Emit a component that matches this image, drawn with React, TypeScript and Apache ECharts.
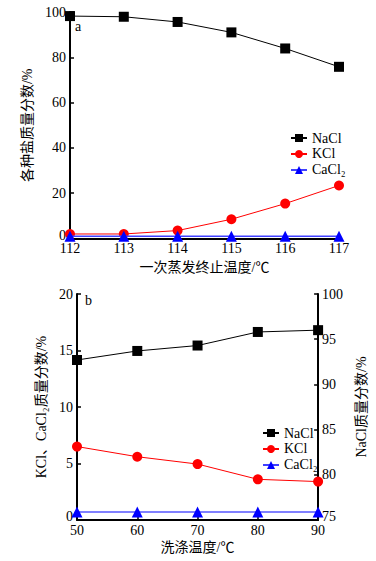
import React, { useEffect, useRef } from "react";
import * as echarts from "echarts";

const tempA = [112, 113, 114, 115, 116, 117];
const naclA = [98.2, 97.9, 95.6, 91.0, 83.9, 75.8];
const kclA = [2.0, 2.0, 3.5, 8.5, 15.4, 23.4];
const cacl2A = [1.0, 1.0, 1.0, 1.0, 1.0, 1.0];

const tempB = [50, 60, 70, 80, 90];
const naclB = [92.7, 93.7, 94.3, 95.8, 96.0];
const kclB = [6.5, 5.6, 4.95, 3.6, 3.4];
const cacl2B = [0.7, 0.7, 0.7, 0.7, 0.7];

const seriesNames = ["NaCl", "KCl", "CaCl₂"];

const FONT = "'Liberation Serif', 'Noto Sans CJK SC', serif";

const pair = (xs: number[], ys: number[]) => xs.map((x, i) => [x, ys[i]]);

export default function App() {
  const ref = useRef<HTMLDivElement>(null);
  useEffect(() => {
    if (!ref.current) return;
    const chart = echarts.init(ref.current, undefined, { renderer: "svg" });
    const axisLine = { show: true, lineStyle: { color: "#000", width: 2 } };
    const axisTick = { show: true, inside: true, length: 4, lineStyle: { color: "#000", width: 1.5 } };
    const axisLabel = { color: "#000", fontSize: 14, fontFamily: FONT, margin: 4 };
    const yLabel = (minV: number) => ({
      ...axisLabel,
      formatter: (v: number) => (v === minV ? "{z|" + v + "}" : String(v)),
      rich: { z: { color: "#000", fontSize: 14, fontFamily: FONT, padding: [0, 0, 7, 0] } },
    });
    const nameTextStyle = { color: "#000", fontSize: 14, fontFamily: FONT };
    const legendBase = {
      orient: "vertical" as const,
      itemWidth: 16,
      itemHeight: 10,
      itemGap: 2,
      padding: 0,
      textStyle: { color: "#000", fontSize: 14, fontFamily: FONT },
      data: seriesNames,
    };
    chart.setOption({
      animation: false,
      backgroundColor: "#fff",
      textStyle: { fontFamily: FONT },
      grid: [
        { left: 70, right: 37, top: 12, height: 226.5 },
        { left: 77, right: 53, top: 294, height: 226 },
      ],
      legend: [
        { ...legendBase, left: 290, top: 131 },
        { ...legendBase, left: 262, top: 426 },
      ],
      xAxis: [
        {
          type: "value", gridIndex: 0, min: 112, max: 117, interval: 1,
          axisLine, axisTick, axisLabel: { ...axisLabel, margin: 3 }, splitLine: { show: false },
          name: "一次蒸发终止温度/℃", nameLocation: "middle", nameGap: 22, nameTextStyle,
        },
        {
          type: "value", gridIndex: 1, min: 50, max: 90, interval: 10,
          axisLine, axisTick, axisLabel: { ...axisLabel, margin: 3 }, splitLine: { show: false },
          name: "洗涤温度/℃", nameLocation: "middle", nameGap: 20, nameTextStyle,
        },
      ],
      yAxis: [
        {
          type: "value", gridIndex: 0, min: 0, max: 100, interval: 20,
          axisLine, axisTick, axisLabel: yLabel(0), splitLine: { show: false },
          name: "各种盐质量分数/%", nameLocation: "middle", nameGap: 20, nameTextStyle,
        },
        {
          type: "value", gridIndex: 1, min: 0, max: 20, interval: 5, position: "left",
          axisLine, axisTick, axisLabel: yLabel(0), splitLine: { show: false },
          name: "KCl、CaCl₂质量分数/%", nameLocation: "middle", nameGap: 19, nameTextStyle,
        },
        {
          type: "value", gridIndex: 1, min: 75, max: 100, interval: 5, position: "right",
          axisLine, axisTick, axisLabel: yLabel(75), splitLine: { show: false },
          name: "NaCl质量分数/%", nameLocation: "middle", nameGap: 21, nameTextStyle,
        },
      ],
      graphic: [
        { type: "text", left: 75, top: 19, style: { text: "a", fontSize: 14, fontFamily: FONT, fill: "#000" } },
        { type: "text", left: 85, top: 293, style: { text: "b", fontSize: 14, fontFamily: FONT, fill: "#000" } },
      ],
      series: [
        {
          name: "NaCl", type: "line", xAxisIndex: 0, yAxisIndex: 0, data: pair(tempA, naclA),
          symbol: "rect", symbolSize: 10, itemStyle: { color: "#000" }, lineStyle: { color: "#000", width: 1 }, z: 3,
        },
        {
          name: "KCl", type: "line", xAxisIndex: 0, yAxisIndex: 0, data: pair(tempA, kclA),
          symbol: "circle", symbolSize: 10, itemStyle: { color: "#ff0000" }, lineStyle: { color: "#ff0000", width: 1 }, z: 3,
        },
        {
          name: "CaCl₂", type: "line", xAxisIndex: 0, yAxisIndex: 0, data: pair(tempA, cacl2A),
          symbol: "triangle", symbolSize: 11, itemStyle: { color: "#0000ff" }, lineStyle: { color: "#4040ff", width: 1.5 }, z: 4,
        },
        {
          name: "NaCl", type: "line", xAxisIndex: 1, yAxisIndex: 2, data: pair(tempB, naclB),
          symbol: "rect", symbolSize: 10, itemStyle: { color: "#000" }, lineStyle: { color: "#000", width: 1 }, z: 3,
        },
        {
          name: "KCl", type: "line", xAxisIndex: 1, yAxisIndex: 1, data: pair(tempB, kclB),
          symbol: "circle", symbolSize: 10, itemStyle: { color: "#ff0000" }, lineStyle: { color: "#ff0000", width: 1 }, z: 3,
        },
        {
          name: "CaCl₂", type: "line", xAxisIndex: 1, yAxisIndex: 1, data: pair(tempB, cacl2B),
          symbol: "triangle", symbolSize: 11, itemStyle: { color: "#0000ff" }, lineStyle: { color: "#8080ff", width: 2 }, z: 4,
        },
      ],
    });
    return () => chart.dispose();
  }, []);
  return (
    <div
      ref={ref}
      style={{ position: "fixed", left: 0, top: 0, width: 376, height: 561, background: "#fff" }}
    />
  );
}
